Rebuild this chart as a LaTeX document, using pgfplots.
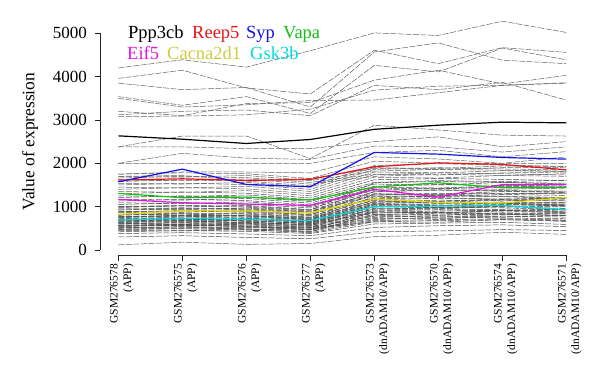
\documentclass[border=0pt]{standalone}
\usepackage{fontspec}
\setmainfont{Liberation Serif}
\usepackage{pgfplots}
\pgfplotsset{compat=1.18}
\definecolor{cPpp}{RGB}{0,0,0}
\definecolor{cReep}{RGB}{230,20,20}
\definecolor{cSyp}{RGB}{20,20,230}
\definecolor{cVapa}{RGB}{20,190,20}
\definecolor{cEif}{RGB}{225,20,225}
\definecolor{cCac}{RGB}{225,220,0}
\definecolor{cCact}{RGB}{205,205,60}
\definecolor{cGsk}{RGB}{0,220,220}
\tikzset{bgline/.style={black!62, line width=0.5pt, dash pattern=on 6pt off 1.5pt},
         dnline/.style={black!72, line width=0.5pt, dash pattern=on 6pt off 1.5pt}}
\newcommand\bg[8]{\addplot[bgline] coordinates {(0,#1)(1,#2)(2,#3)(3,#4)(4,#5)(5,#6)(6,#7)(7,#8)};}
\newcommand\dn[8]{\addplot[dnline] coordinates {(0,#1)(1,#2)(2,#3)(3,#4)(4,#5)(5,#6)(6,#7)(7,#8)};}
\begin{document}
\begin{tikzpicture}
\useasboundingbox (0pt,0pt) rectangle (600pt,-379pt);
\begin{axis}[
  at={(100pt,-255.5pt)}, anchor=south west,
  scale only axis, width=466.3pt, height=239.5pt,
  xmin=-0.286, xmax=7, ymin=-127, ymax=5400,
  clip=false,
  axis line style={draw=none},
  xtick pos=bottom, ytick pos=left,
  tick align=outside, major tick length=5pt,
  tick style={draw=black!85, line width=0.8pt},
  xtick={0,...,7},
  xticklabels={{GSM276578\\(APP)},{GSM276575\\(APP)},{GSM276576\\(APP)},{GSM276577\\(APP)},{GSM276573\\(dnADAM10/APP)},{GSM276570\\(dnADAM10/APP)},{GSM276574\\(dnADAM10/APP)},{GSM276571\\(dnADAM10/APP)}},
  x tick label style={rotate=90, anchor=east, align=right, yshift=-3.5pt, font=\fontsize{11.5}{13.5}\selectfont},
  ytick={0,1000,2000,3000,4000,5000},
  y tick label style={font=\fontsize{17}{20}\selectfont, inner xsep=8pt},
  scaled y ticks=false,
  /pgf/number format/1000 sep={},
  /pgf/number format/assume math mode=true,
  ylabel={Value of expression},
  ylabel style={at={(axis cs:-0.286,2500)}, anchor=center, yshift=70pt, inner sep=0pt, font=\fontsize{17.5}{20}\selectfont},
]
% upper background genes
\bg{4200}{4390}{4220}{4600}{5010}{4950}{5280}{5020}
\bg{3960}{4150}{3740}{3600}{4610}{4300}{4670}{4560}
\bg{3850}{3700}{3750}{3300}{4570}{4780}{4380}{4300}
\bg{3540}{3340}{3540}{3150}{4260}{4110}{4660}{4390}
\bg{3200}{3100}{3380}{3400}{3920}{4150}{3830}{4030}
\bg{3120}{3200}{3230}{3100}{3800}{3700}{3870}{3460}
\bg{3080}{3090}{3120}{3250}{3690}{3780}{3800}{3860}
\bg{3500}{3300}{3350}{3450}{3460}{3630}{3800}{3850}
% middle background genes
\bg{2380}{2630}{2630}{2110}{2880}{2770}{2650}{2630}
\bg{2380}{2380}{2340}{2340}{2500}{2610}{2380}{2500}
\bg{2000}{2230}{2120}{2090}{2400}{2380}{2260}{2380}
\bg{2000}{2000}{2000}{2000}{2250}{2300}{2150}{2270}
\bg{1750}{1800}{1800}{1780}{2150}{2100}{2000}{2150}
\bg{1700}{1720}{1600}{1650}{2050}{2000}{1990}{2000}
% dense band
\bg{120}{180}{130}{150}{310}{340}{410}{360}
\dn{300}{330}{290}{260}{420}{440}{470}{450}
\dn{380}{400}{370}{330}{520}{560}{580}{540}
\dn{420}{450}{430}{380}{600}{620}{640}{590}
\dn{450}{440}{470}{400}{650}{640}{700}{680}
\dn{480}{510}{490}{430}{680}{700}{720}{690}
\dn{500}{530}{480}{460}{700}{760}{740}{720}
\dn{520}{500}{540}{470}{730}{720}{780}{760}
\dn{540}{570}{550}{480}{750}{790}{760}{800}
\dn{560}{590}{530}{510}{780}{760}{820}{790}
\dn{580}{560}{600}{520}{790}{830}{810}{840}
\dn{600}{640}{610}{540}{820}{800}{860}{830}
\dn{620}{600}{650}{570}{850}{880}{840}{870}
\dn{640}{680}{630}{590}{870}{900}{920}{880}
\dn{660}{640}{690}{600}{880}{860}{910}{940}
\dn{680}{720}{660}{620}{920}{950}{930}{900}
\dn{700}{690}{720}{640}{940}{980}{1000}{960}
\dn{720}{760}{740}{660}{970}{950}{1010}{1030}
\dn{740}{720}{700}{680}{1000}{1030}{990}{1010}
\dn{760}{800}{780}{700}{1020}{1060}{1080}{1040}
\dn{780}{760}{810}{720}{1050}{1020}{1090}{1100}
\dn{800}{840}{790}{740}{1080}{1110}{1070}{1060}
\dn{830}{810}{850}{760}{1100}{1150}{1130}{1160}
\dn{860}{900}{870}{790}{1140}{1120}{1180}{1150}
\dn{890}{870}{910}{820}{1180}{1210}{1170}{1200}
\dn{920}{960}{930}{850}{1200}{1250}{1230}{1190}
\dn{950}{930}{970}{880}{1250}{1230}{1280}{1260}
\dn{980}{1020}{990}{900}{1270}{1310}{1290}{1320}
\dn{1010}{990}{1030}{930}{1300}{1280}{1350}{1330}
\dn{1050}{1090}{1060}{970}{1340}{1380}{1360}{1340}
\dn{1090}{1070}{1110}{1000}{1380}{1420}{1400}{1430}
\dn{1130}{1170}{1140}{1040}{1430}{1410}{1470}{1450}
\dn{1170}{1150}{1190}{1080}{1470}{1510}{1490}{1480}
\dn{1210}{1250}{1220}{1120}{1520}{1500}{1560}{1540}
\dn{1250}{1230}{1270}{1160}{1560}{1600}{1580}{1610}
\dn{1300}{1340}{1310}{1200}{1620}{1650}{1630}{1600}
\bg{1350}{1330}{1370}{1250}{1680}{1660}{1720}{1700}
\bg{1400}{1440}{1410}{1300}{1740}{1780}{1760}{1730}
\bg{1450}{1430}{1470}{1350}{1800}{1780}{1830}{1810}
\bg{1500}{1540}{1510}{1400}{1860}{1900}{1870}{1850}
\bg{1540}{1520}{1560}{1450}{1900}{1880}{1940}{1920}
\bg{1580}{1620}{1590}{1480}{1950}{1990}{1960}{1930}
\bg{1620}{1600}{1640}{1520}{1700}{1750}{1720}{1760}
\bg{1660}{1700}{1670}{1560}{1750}{1730}{1780}{1800}
\bg{1700}{1680}{1720}{1600}{1820}{1860}{1840}{1820}
\bg{1750}{1780}{1760}{1650}{1880}{1860}{1900}{1910}
\dn{550}{580}{560}{500}{650}{680}{700}{660}
\dn{610}{590}{620}{560}{900}{930}{910}{950}
\dn{670}{700}{680}{610}{1040}{1070}{1050}{1020}
\dn{710}{690}{730}{650}{1120}{1100}{1150}{1130}
\dn{750}{780}{760}{690}{1160}{1190}{1170}{1200}
\dn{570}{600}{580}{520}{960}{990}{970}{940}
\dn{630}{660}{640}{580}{1010}{980}{1040}{1060}
\dn{690}{670}{710}{630}{1070}{1100}{1080}{1090}
\dn{470}{490}{460}{420}{820}{850}{830}{800}
\dn{510}{540}{520}{470}{880}{860}{900}{870}
\dn{770}{800}{790}{710}{1230}{1260}{1240}{1210}
\dn{820}{850}{830}{750}{1290}{1270}{1310}{1300}
\dn{880}{910}{890}{810}{1350}{1390}{1370}{1360}
\dn{940}{970}{950}{870}{1450}{1430}{1480}{1470}
\dn{1000}{1030}{1010}{920}{1550}{1580}{1560}{1520}
% highlighted genes
\addplot[cPpp, line width=1.2pt] coordinates {(0,2634)(1,2557)(2,2458)(3,2550)(4,2785)(5,2880)(6,2950)(7,2934)};
\addplot[cReep, line width=1.2pt] coordinates {(0,1613)(1,1643)(2,1605)(3,1628)(4,1920)(5,2012)(6,1974)(7,1851)};
\addplot[cSyp, line width=1.2pt] coordinates {(0,1574)(1,1866)(2,1513)(3,1459)(4,2251)(5,2212)(6,2135)(7,2097)};
\addplot[cVapa, line width=1.2pt] coordinates {(0,1306)(1,1206)(2,1221)(3,1152)(4,1450)(5,1551)(6,1435)(7,1440)};
\addplot[cEif, line width=1.2pt] coordinates {(0,1167)(1,1091)(2,1060)(3,1029)(4,1398)(5,1220)(6,1510)(7,1510)};
\addplot[cCac, line width=1.2pt] coordinates {(0,822)(1,906)(2,899)(3,860)(4,1175)(5,1098)(6,1083)(7,1214)};
\addplot[cGsk, line width=1.2pt] coordinates {(0,691)(1,730)(2,707)(3,680)(4,998)(5,1014)(6,1029)(7,930)};
% axis lines (R style, offset)
\draw[black!85, line width=0.8pt] (axis cs:0,-127) -- (axis cs:7,-127);
\draw[black!85, line width=0.8pt] (axis cs:-0.286,0) -- (axis cs:-0.286,5000);
\end{axis}
% legend text
\begin{scope}[every node/.style={anchor=base west, inner sep=0pt, font=\fontsize{18.5}{20}\selectfont}]
\node[text=cPpp] at (128pt,-38.3pt) {Ppp3cb};
\node[text=cReep] at (192pt,-38.3pt) {Reep5};
\node[text=cSyp] at (246pt,-38.3pt) {Syp};
\node[text=cVapa] at (283pt,-38.3pt) {Vapa};
\node[text=cEif] at (127pt,-59.3pt) {Eif5};
\node[text=cCact] at (167pt,-59.3pt) {Cacna2d1};
\node[text=cGsk] at (250pt,-59.3pt) {Gsk3b};
\end{scope}
\end{tikzpicture}
\end{document}
